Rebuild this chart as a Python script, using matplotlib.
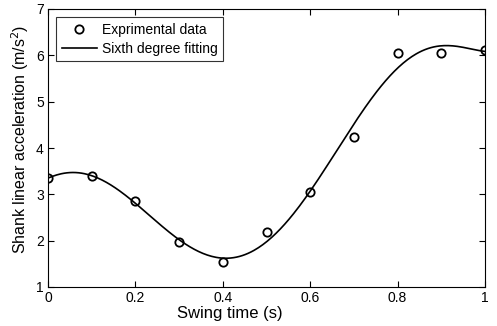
import numpy as np
import matplotlib.pyplot as plt

plt.rcParams['font.family'] = ['Liberation Sans', 'DejaVu Sans']

# measured points
t = [0.0, 0.1, 0.2, 0.3, 0.4, 0.5, 0.6, 0.7, 0.8, 0.9, 1.0]
acc = [3.35, 3.39, 2.86, 1.97, 1.53, 2.18, 3.05, 4.24, 6.04, 6.06, 6.11]

# sixth degree polynomial fit of the measured points
coef = np.polyfit(t, acc, 6)
t_fit = np.linspace(0, 1, 300)
acc_fit = np.polyval(coef, t_fit)

fig = plt.figure(figsize=(4.97, 3.26), dpi=100)
ax = fig.add_axes([48 / 497, 1 - 287 / 326, 437 / 497, 278 / 326])

ax.plot(t, acc, 'o', mfc='none', mec='black', ms=6, mew=1.3,
        label='Exprimental data')
ax.plot(t_fit, acc_fit, '-', color='black', lw=1.2,
        label='Sixth degree fitting')

ax.set_xlim(0, 1)
ax.set_ylim(1, 7)
ax.set_xticks([0, 0.2, 0.4, 0.6, 0.8, 1])
ax.set_xticklabels(['0', '0.2', '0.4', '0.6', '0.8', '1'])
ax.set_yticks([1, 2, 3, 4, 5, 6, 7])
ax.tick_params(direction='in', top=True, right=True, labelsize=10, length=4, pad=3)
for s in ax.spines.values():
    s.set_linewidth(0.8)

ax.set_xlabel('Swing time (s)', fontsize=12)
ax.set_ylabel('Shank linear acceleration (m/s$^2$)', fontsize=11.5)
# label positions are off-centre in the original
ax.xaxis.set_label_coords(0.416, -0.07)
ax.yaxis.set_label_coords(-0.04, 0.53)

leg = ax.legend(loc='upper left', fontsize=10, frameon=True, fancybox=False,
                edgecolor='black', borderaxespad=0.6, handlelength=2.5,
                handletextpad=0.4, borderpad=0.4, labelspacing=0.35)
leg.get_frame().set_linewidth(0.8)

fig.savefig('out.png', dpi=100)
